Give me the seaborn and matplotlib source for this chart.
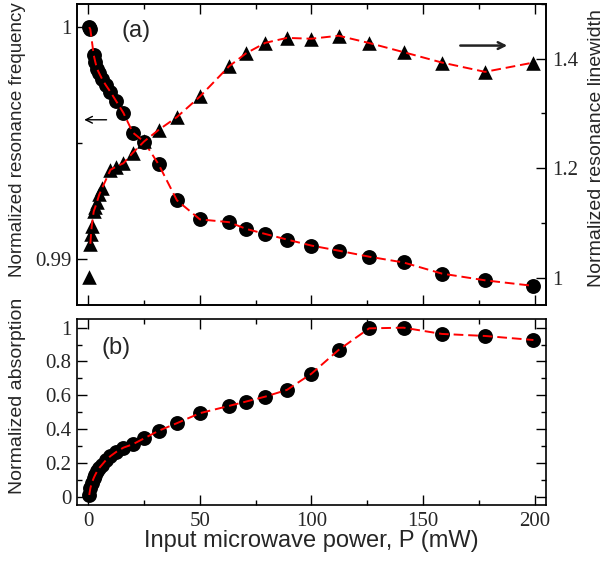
import numpy as np
import pandas as pd
import seaborn as sns
import matplotlib
matplotlib.use('Agg')
import matplotlib.pyplot as plt
from matplotlib.ticker import MultipleLocator, FormatStrFormatter

# resonance frequency (circles, left axis of panel a)
p_freq = [0.5, 1.0, 2.5, 3.2, 4.0, 5.0, 6.3, 7.9, 10.0, 12.6, 15.8, 20.0, 25.1, 31.6,
          39.8, 50.1, 63.1, 70.8, 79.4, 89.1, 100.0, 112.2, 125.9, 141.3, 158.5, 177.8, 199.5]
freq = [1.0000, 0.99990, 0.99880, 0.99850, 0.99820, 0.99800, 0.99775, 0.99750, 0.99720,
        0.99680, 0.99630, 0.99545, 0.99505, 0.99407, 0.99252, 0.99170, 0.99158, 0.99129,
        0.99107, 0.99083, 0.99057, 0.99035, 0.99009, 0.98984, 0.98936, 0.98907, 0.98883]

# resonance linewidth (triangles, right axis of panel a)
p_lw = [0.5, 1.0, 1.3, 1.6, 2.5, 3.2, 4.0, 5.0, 6.3, 10.0, 12.6, 15.8, 20.0, 25.1, 31.6,
        39.8, 50.1, 63.1, 70.8, 79.4, 89.1, 100.0, 112.2, 125.9, 141.3, 158.5, 177.8, 199.5]
lw = [1.002, 1.062, 1.079, 1.094, 1.121, 1.129, 1.139, 1.152, 1.164, 1.197, 1.203, 1.209,
      1.228, 1.249, 1.270, 1.2935, 1.331, 1.386, 1.410, 1.429, 1.438, 1.4365, 1.442,
      1.4287, 1.412, 1.393, 1.376, 1.393]

# absorption (panel b)
p_abs = [0.5, 1.0, 1.6, 2.5, 3.2, 4.0, 5.0, 6.3, 7.9, 10.0, 12.6, 15.8, 20.0, 25.1, 31.6,
         39.8, 50.1, 63.1, 70.8, 79.4, 89.1, 100.0, 112.2, 125.9, 141.3, 158.5, 177.8, 199.5]
absorb = [0.01, 0.05, 0.08, 0.11, 0.13, 0.15, 0.17, 0.19, 0.215, 0.24, 0.265, 0.29, 0.31,
          0.345, 0.39, 0.435, 0.494, 0.537, 0.563, 0.592, 0.632, 0.727, 0.868, 0.996,
          1.0, 0.963, 0.951, 0.927]

sns.set_theme(style="ticks")
plt.rcParams['font.family'] = ['Liberation Sans', 'DejaVu Sans']

df_f = pd.DataFrame({'P': p_freq, 'v': freq})
df_w = pd.DataFrame({'P': p_lw, 'v': lw})
df_a = pd.DataFrame({'P': p_abs, 'v': absorb})

fig = plt.figure(figsize=(6.06, 5.65), dpi=100)
ax = fig.add_axes([0.127, 0.460, 0.7735, 0.533])
ax2 = ax.twinx()
axb = fig.add_axes([0.127, 0.106, 0.7735, 0.329])

dash = (5, 2.5)
mk_c = dict(marker='o', s=115, color='black', edgecolor='black', linewidth=0, zorder=2)
mk_t = dict(marker='^', s=110, color='black', edgecolor='black', linewidth=0, zorder=2)

# panel a
sns.scatterplot(data=df_f, x='P', y='v', ax=ax, **mk_c)
ax.plot(df_f['P'], df_f['v'], color='red', lw=1.4, dashes=dash, zorder=3)
sns.scatterplot(data=df_w, x='P', y='v', ax=ax2, **mk_t)
ax2.plot(df_w['P'][1:], df_w['v'][1:], color='red', lw=1.4, dashes=dash, zorder=3)

# panel b
sns.scatterplot(data=df_a, x='P', y='v', ax=axb, **mk_c)
axb.plot(df_a['P'], df_a['v'], color='red', lw=1.4, dashes=dash, zorder=3)

for a in (ax, ax2, axb):
    a.set_xlim(-5, 205)
    a.set_xlabel('')
    a.set_ylabel('')
    for s in a.spines.values():
        s.set_linewidth(1.2)
        s.set_color('black')
    a.xaxis.set_major_locator(MultipleLocator(50))
    a.xaxis.set_minor_locator(MultipleLocator(25))
    a.tick_params(which='major', direction='in', length=7, width=1, color='black',
                  labelsize=15, pad=5)
    a.tick_params(which='minor', direction='in', length=3.6, width=1, color='black')

ax.set_ylim(0.988, 1.001)
ax.yaxis.set_major_locator(MultipleLocator(0.01))
ax.yaxis.set_minor_locator(MultipleLocator(0.005))
ax.yaxis.set_major_formatter(FormatStrFormatter('%g'))
ax.tick_params(which='both', top=True, bottom=True, left=True, right=False,
               labelbottom=False)
ax.tick_params(axis='y', pad=4)

ax2.set_ylim(0.95, 1.5)
ax2.yaxis.set_major_locator(MultipleLocator(0.2))
ax2.yaxis.set_minor_locator(MultipleLocator(0.1))
ax2.yaxis.set_major_formatter(FormatStrFormatter('%g'))
ax2.tick_params(which='both', top=False, bottom=False, left=False, right=True,
                labelleft=False, labelright=True, labelbottom=False)

axb.set_ylim(-0.05, 1.05)
axb.yaxis.set_major_locator(MultipleLocator(0.2))
axb.yaxis.set_minor_locator(MultipleLocator(0.1))
axb.yaxis.set_major_formatter(FormatStrFormatter('%g'))
axb.xaxis.set_major_formatter(FormatStrFormatter('%g'))
axb.tick_params(which='both', top=True, bottom=True, left=True, right=True)
axb.tick_params(axis='y', pad=4)

for a in (ax, ax2, axb):
    for lab in a.get_xticklabels() + a.get_yticklabels():
        lab.set_family('Liberation Serif')

# arrows and panel letters
ax.annotate('', xy=(-3, 0.9960), xytext=(9.5, 0.9960),
            arrowprops=dict(arrowstyle='->', color='black', lw=1.0))
ax2.annotate('', xy=(189, 1.424), xytext=(165.5, 1.424),
             arrowprops=dict(arrowstyle='->', color='#222222', lw=1.8))
ax.text(0.096, 0.91, '(a)', transform=ax.transAxes, fontsize=17, va='center')
axb.text(0.053, 0.847, '(b)', transform=axb.transAxes, fontsize=17, va='center')

fig.text(0.029, 0.753, 'Normalized resonance frequency', rotation=90,
         ha='center', va='center', fontsize=13.5)
fig.text(0.985, 0.738, 'Normalized resonance linewidth', rotation=90,
         ha='center', va='center', fontsize=14)
fig.text(0.029, 0.30, 'Normalized absorption', rotation=90,
         ha='center', va='center', fontsize=14)
fig.text(0.514, 0.0425, 'Input microwave power, P (mW)', ha='center', va='center',
         fontsize=17)

fig.savefig('out.png', dpi=100)
